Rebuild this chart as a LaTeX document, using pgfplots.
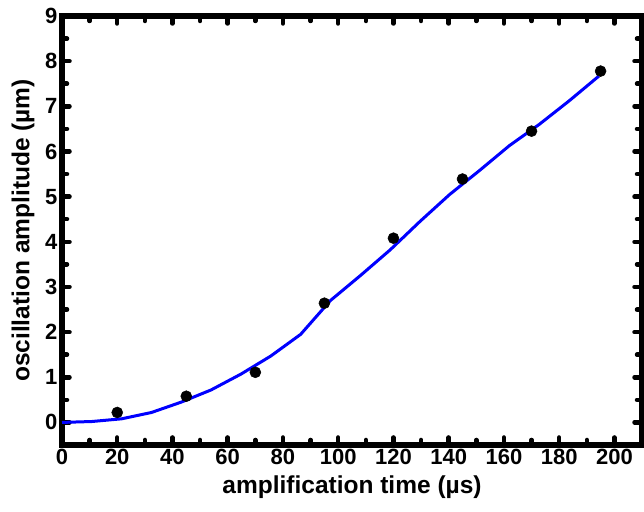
\documentclass[border=0pt]{standalone}
\usepackage{pgfplots}
\pgfplotsset{compat=1.18}
\usepackage{fontspec}
\setmainfont{Liberation Sans}
\begin{document}
\begin{tikzpicture}[x=1pt,y=1pt]
\begin{axis}[
  name=ax,
  scale only axis,
  width=580pt, height=429pt,
  xmin=0, xmax=210, ymin=-0.5, ymax=9,
  xtick={0,20,...,200}, ytick={0,1,...,9},
  minor xtick={10,30,...,210}, minor ytick={-0.5,0.5,...,8.5},
  tick align=inside,
  major tick length=7.5pt, minor tick length=5pt,
  major tick style={black, line width=4.5pt, line cap=round},
  minor tick style={black, line width=4.5pt, line cap=round},
  axis line style={line width=6.5pt},
  /pgf/number format/assume math mode=true,
  ticklabel style={font=\fontsize{22}{24}\selectfont\bfseries},
  xticklabel style={yshift=-1pt},
  yticklabel style={xshift=-1pt},
  label style={font=\fontsize{24.5}{26}\selectfont\bfseries},
  xlabel={amplification time (µs)},
  ylabel={oscillation amplitude (µm)},
  xlabel style={yshift=-4pt},
  ylabel style={yshift=4pt},
  clip=false,
]
\addplot[blue, line width=3pt, no markers] coordinates {
(0,0) (10.8,0.02) (21.6,0.08) (32.4,0.22) (43.2,0.45) (54,0.72) (64.8,1.07)
(75.6,1.47) (86.4,1.95) (97.2,2.70) (108,3.25) (118.8,3.82) (129.6,4.45)
(140.4,5.05) (151.2,5.58) (162,6.13) (172.8,6.60) (183.6,7.12) (194.4,7.67)
};
\addplot[only marks, mark=*, mark size=5.5pt, black, mark options={line width=0.5pt}] coordinates {
(20,0.22) (45,0.58) (70,1.11) (95,2.64) (120,4.08) (145,5.39) (170,6.45) (195,7.78)
};
\end{axis}
\pgfresetboundingbox
\path[use as bounding box] ([shift={(-62pt,-67pt)}]ax.south west) rectangle ([shift={(2pt,16pt)}]ax.north east);
\end{tikzpicture}
\end{document}
